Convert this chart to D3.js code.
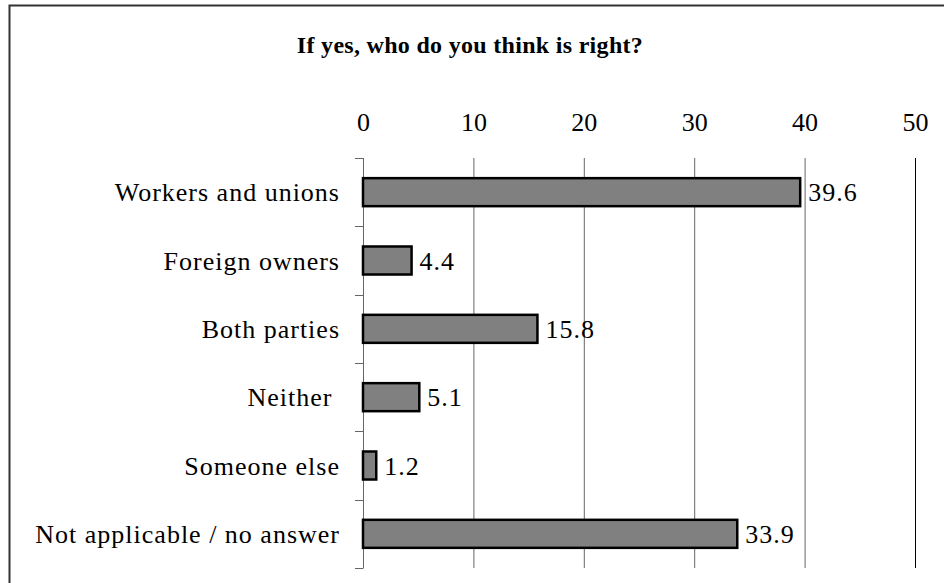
<!DOCTYPE html>
<html>
<head>
<meta charset="utf-8">
<script src="https://cdn.jsdelivr.net/npm/d3@7"></script>
<style>
  body { margin: 0; background: #fff; }
  text { font-family: "Liberation Serif", "Times New Roman", serif; }
</style>
</head>
<body>
<div id="chart"></div>
<script>
// data
const categories = ["Workers and unions", "Foreign owners", "Both parties", "Neither ", "Someone else", "Not applicable / no answer"];
const values = [39.6, 4.4, 15.8, 5.1, 1.2, 33.9];
const tickValues = [0, 10, 20, 30, 40, 50];
const title = "If yes, who do you think is right?";

const W = 944, H = 583;
const margin = {top: 158, right: 29, bottom: 15, left: 363};

const svg = d3.select("#chart")
  .append("svg")
  .attr("width", W)
  .attr("height", H);

// chart area border (runs off the right/bottom of the frame)
svg.append("rect")
  .attr("x", 9.5).attr("y", 5.5)
  .attr("width", 960).attr("height", 620)
  .attr("fill", "none")
  .attr("stroke", "#333")
  .attr("stroke-width", 2);

svg.append("text")
  .attr("x", 470).attr("y", 53)
  .attr("text-anchor", "middle")
  .attr("font-weight", "bold")
  .attr("font-size", 24)
  .attr("letter-spacing", 0.3)
  .text(title);

let x = d3.scaleLinear()
  .domain([0, 50])
  .range([margin.left, W - margin.right]);

let y = d3.scaleBand()
  .domain(categories)
  .range([margin.top, H - margin.bottom])
  .paddingInner(0.59)
  .paddingOuter(0.295);

// vertical gridlines
svg.append("g")
  .selectAll("line")
  .data(tickValues.slice(1))
  .enter()
  .append("line")
    .attr("x1", d => x(d) + 0.5)
    .attr("x2", d => x(d) + 0.5)
    .attr("y1", margin.top)
    .attr("y2", H - margin.bottom)
    .attr("stroke", d => d === 50 ? "#000" : "#666")
    .attr("stroke-width", 1);

// top axis labels, no ticks
let xAxis = svg.append("g")
  .attr("transform", "translate(0," + (margin.top - 27) + ")")
  .call(d3.axisTop(x).tickValues(tickValues).tickSize(0).tickPadding(0));
xAxis.select(".domain").remove();
xAxis.selectAll("text")
  .attr("font-size", 26)
  .attr("fill", "#000")
  .attr("dy", 0);

// left axis: line plus ticks on category boundaries
let step = y.step();
let bounds = d3.range(categories.length + 1).map(i => margin.top + i * step);
svg.append("line")
  .attr("x1", margin.left + 0.5).attr("x2", margin.left + 0.5)
  .attr("y1", margin.top).attr("y2", H - margin.bottom)
  .attr("stroke", "#666");
svg.append("g")
  .selectAll("line")
  .data(bounds)
  .enter()
  .append("line")
    .attr("x1", margin.left - 8).attr("x2", margin.left + 0.5)
    .attr("y1", d => Math.round(d) + 0.5)
    .attr("y2", d => Math.round(d) + 0.5)
    .attr("stroke", "#666");

// category labels
svg.append("g")
  .selectAll("text")
  .data(categories)
  .enter()
  .append("text")
    .attr("x", margin.left - 23)
    .attr("y", d => y(d) + y.bandwidth() / 2)
    .attr("dy", "0.35em")
    .attr("text-anchor", "end")
    .attr("font-size", 26)
    .attr("letter-spacing", 1)
    .style("white-space", "pre")
    .text(d => d);

// bars
svg.append("g")
  .selectAll("rect")
  .data(values)
  .enter()
  .append("rect")
    .attr("x", x(0))
    .attr("y", (d, i) => y(categories[i]))
    .attr("width", d => x(d) - x(0))
    .attr("height", y.bandwidth())
    .attr("fill", "#808080")
    .attr("stroke", "#000")
    .attr("stroke-width", 2.5);

// value labels
svg.append("g")
  .selectAll("text")
  .data(values)
  .enter()
  .append("text")
    .attr("x", d => x(d) + 8)
    .attr("y", (d, i) => y(categories[i]) + y.bandwidth() / 2)
    .attr("dy", "0.35em")
    .attr("font-size", 26)
    .attr("letter-spacing", 1)
    .text(d => d.toFixed(1));
</script>
</body>
</html>
